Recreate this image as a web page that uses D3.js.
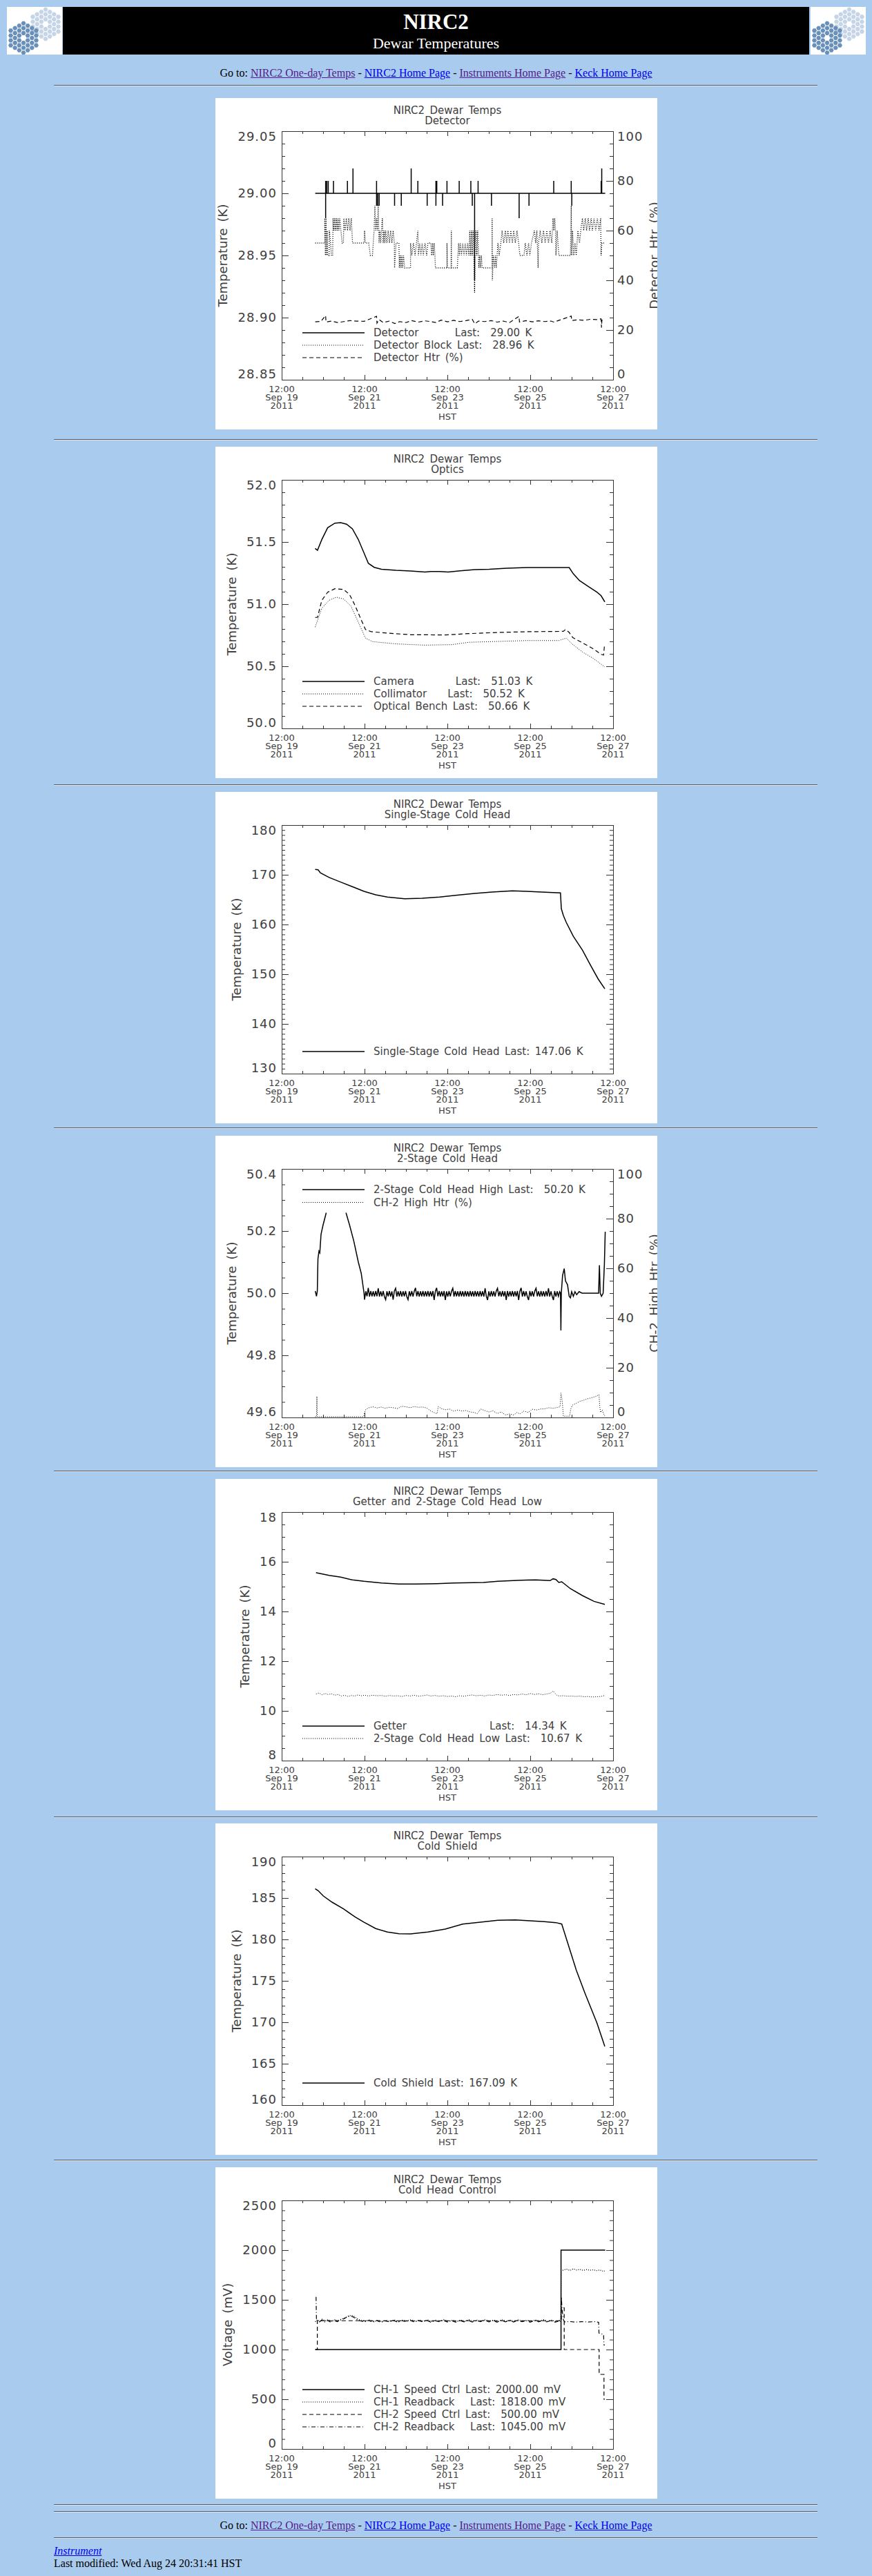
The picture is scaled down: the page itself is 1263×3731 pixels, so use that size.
<!DOCTYPE html>
<html>
<head>
<meta charset="utf-8">
<title>NIRC2 Dewar Temperatures</title>
<script src="https://cdn.jsdelivr.net/npm/d3@7"></script>
<style>
  body { margin: 0; background: #a9cbee; }
  #page { position: relative; width: 1263px; height: 3731px; font-family: "Liberation Serif", "Times New Roman", serif; }
  .abs { position: absolute; }
  .banner { left: 91px; top: 10px; width: 1081px; height: 69px; background: #000; color: #fff; }
  .banner div { position: absolute; left: 0; width: 100%; text-align: center; }
  .goto { left: 0; width: 1263px; text-align: center; font-size: 16px; line-height: 16px; }
  .foot { left: 78px; font-size: 16px; line-height: 16px; }
  a { color: #0000ee; }
  a.seen { color: #551a8b; }
  .rule { left: 78px; width: 1106px; height: 0; border-top: 1px solid #5c5c5c; border-bottom: 1px solid #dde7f3; }
  svg text { font-family: "DejaVu Sans", Verdana, sans-serif; fill: #404040; }
  .ttl text { font-size: 15px; }
  .ylab text { font-size: 18px; letter-spacing: 1px; }
  .ytitle { font-size: 18px; }
  .xlab text, .hst { font-size: 13px; }
  .legend text { font-size: 15px; }
</style>
</head>
<body>
<div id="page"></div>
<script>
// x values below are decimal days of September 2011 (HST), e.g. 20.5 = Sep 20 12:00
const xStart = 19.5;
const xEnd = 27.5;
const plotTitle = "NIRC2 Dewar Temps";

// ---- Detector ----
const detectorTicks = [28.85, 28.90, 28.95, 29.00, 29.05];
const htrTicks = [0, 20, 40, 60, 80, 100];
const detectorBase = 29.00;
const detectorSpan = [20.31, 27.31];
const detectorSpikes = [
  [20.561, 29.01], [20.561, 28.98], [20.589, 29.01], [20.624, 29.01], [20.75, 29.01], [21.087, 29.01],
  [21.221, 29.02], [21.79, 29.01], [21.79, 28.99], [21.818, 28.99], [21.853, 28.99], [22.225, 28.99],
  [22.387, 28.99], [22.626, 29.02], [22.787, 29.01], [23.012, 28.99], [23.223, 29.01], [23.223, 28.99],
  [23.244, 29.01], [23.384, 28.99], [23.49, 29.01], [23.785, 29.01], [24.066, 29.01], [24.101, 28.99],
  [24.157, 28.93], [24.241, 29.01], [24.564, 28.99], [25.232, 28.98], [25.47, 28.99], [26.067, 29.01],
  [26.489, 29.01], [26.503, 28.99], [27.212, 29.01], [27.226, 29.02]
];
const detectorBlock = [
  [20.31, 28.96], [20.54, 28.96], [20.54, 28.98], [20.555, 28.95], [20.57, 28.98], [20.585, 28.95], [20.60, 28.97],
  [20.61, 28.95], [20.645, 28.95], [20.65, 28.97], [20.68, 28.96], [20.70, 28.95], [20.73, 28.95], [20.74, 28.98],
  [20.76, 28.97], [20.78, 28.98], [20.80, 28.97], [20.82, 28.98], [20.84, 28.97], [20.86, 28.98], [20.88, 28.97],
  [20.90, 28.98], [20.93, 28.97], [20.96, 28.96], [20.99, 28.96], [21.00, 28.98], [21.03, 28.97], [21.06, 28.98],
  [21.09, 28.97], [21.12, 28.98], [21.15, 28.97], [21.18, 28.98], [21.21, 28.96], [21.49, 28.96], [21.50, 28.97],
  [21.52, 28.96], [21.60, 28.96], [21.64, 28.95], [21.69, 28.95], [21.73, 28.97], [21.75, 28.99], [21.77, 28.97],
  [21.79, 28.98], [21.81, 28.97], [21.83, 28.99], [21.85, 28.96], [21.87, 28.97], [21.89, 28.96], [21.91, 28.97],
  [21.93, 28.98], [21.95, 28.96], [21.97, 28.97], [21.99, 28.96], [22.01, 28.97], [22.04, 28.96], [22.07, 28.97],
  [22.10, 28.96], [22.13, 28.97], [22.16, 28.96], [22.19, 28.97], [22.22, 28.96], [22.225, 28.94], [22.26, 28.96],
  [22.33, 28.96], [22.34, 28.94], [22.36, 28.95], [22.38, 28.94], [22.40, 28.95], [22.42, 28.94], [22.44, 28.95],
  [22.47, 28.94], [22.61, 28.94], [22.61, 28.96], [22.64, 28.95], [22.68, 28.96], [22.72, 28.95], [22.787, 28.97],
  [22.80, 28.95], [22.83, 28.96], [22.86, 28.95], [22.89, 28.96], [22.92, 28.95], [22.96, 28.96], [23.00, 28.95],
  [23.03, 28.96], [23.10, 28.96], [23.12, 28.95], [23.14, 28.96], [23.16, 28.95], [23.18, 28.96], [23.20, 28.95],
  [23.21, 28.94], [23.49, 28.94], [23.49, 28.96], [23.50, 28.94], [23.59, 28.94], [23.595, 28.97], [23.60, 28.94],
  [23.74, 28.94], [23.77, 28.96], [23.79, 28.95], [23.81, 28.96], [23.84, 28.95], [23.87, 28.96], [23.90, 28.95],
  [23.93, 28.96], [23.96, 28.95], [23.99, 28.96], [24.02, 28.95], [24.04, 28.97], [24.06, 28.95], [24.08, 28.97],
  [24.10, 28.95], [24.12, 28.97], [24.14, 28.95], [24.157, 28.92], [24.17, 28.96], [24.19, 28.97], [24.21, 28.95],
  [24.23, 28.97], [24.26, 28.94], [24.28, 28.95], [24.30, 28.94], [24.32, 28.95], [24.34, 28.94], [24.37, 28.94],
  [24.58, 28.94], [24.58, 28.98], [24.585, 28.93], [24.61, 28.95], [24.64, 28.94], [24.66, 28.95], [24.68, 28.94],
  [24.72, 28.96], [24.75, 28.95], [24.79, 28.96], [24.82, 28.97], [24.86, 28.96], [24.90, 28.97], [24.93, 28.96],
  [24.96, 28.97], [25.00, 28.96], [25.03, 28.97], [25.07, 28.96], [25.10, 28.97], [25.14, 28.96], [25.18, 28.97],
  [25.22, 28.96], [25.25, 28.95], [25.35, 28.95], [25.38, 28.96], [25.42, 28.95], [25.46, 28.96], [25.49, 28.95],
  [25.53, 28.96], [25.60, 28.97], [25.63, 28.96], [25.66, 28.97], [25.69, 28.94], [25.70, 28.96], [25.74, 28.97],
  [25.78, 28.96], [25.82, 28.97], [25.86, 28.96], [25.90, 28.97], [25.94, 28.96], [25.98, 28.97], [26.02, 28.96],
  [26.05, 28.98], [26.07, 28.97], [26.09, 28.98], [26.11, 28.97], [26.12, 28.95], [26.15, 28.97], [26.19, 28.95],
  [26.23, 28.95], [26.47, 28.95], [26.49, 28.99], [26.50, 28.95], [26.52, 28.97], [26.55, 28.95], [26.58, 28.96],
  [26.61, 28.95], [26.65, 28.97], [26.69, 28.96], [26.72, 28.97], [26.76, 28.98], [26.79, 28.97], [26.83, 28.98],
  [26.86, 28.97], [26.90, 28.98], [26.93, 28.97], [26.97, 28.98], [27.00, 28.97], [27.04, 28.98], [27.08, 28.97],
  [27.12, 28.98], [27.16, 28.97], [27.20, 28.98], [27.21, 28.95], [27.23, 28.96], [27.31, 28.96]
];
const detectorHtr = [
  [20.31, 23.3], [20.45, 23.5], [20.56, 25.8], [20.57, 23.2], [20.70, 23.6], [20.85, 23.0], [21.00, 23.4],
  [21.15, 23.8], [21.30, 23.6], [21.49, 23.5], [21.79, 25.5], [21.80, 22.8], [21.85, 24.2], [21.95, 23.0],
  [22.10, 23.6], [22.23, 22.6], [22.35, 23.4], [22.50, 23.0], [22.63, 23.8], [22.80, 23.2], [22.95, 23.7],
  [23.10, 23.4], [23.22, 23.0], [23.35, 24.0], [23.50, 23.3], [23.65, 23.9], [23.80, 23.4], [23.95, 23.8],
  [24.10, 24.3], [24.16, 22.5], [24.25, 23.6], [24.40, 23.4], [24.56, 23.8], [24.70, 23.2], [24.85, 23.6],
  [25.00, 23.0], [25.23, 25.5], [25.24, 23.2], [25.40, 23.8], [25.55, 23.3], [25.70, 23.7], [25.85, 23.4],
  [26.00, 23.6], [26.07, 23.2], [26.49, 25.6], [26.50, 23.8], [26.65, 24.1], [26.80, 23.9], [26.95, 24.3],
  [27.10, 24.2], [27.21, 24.5], [27.22, 21.0], [27.23, 24.0], [27.31, 23.9]
];

// ---- Optics ----
const opticsTicks = [50.0, 50.5, 51.0, 51.5, 52.0];
const camera = [
  [20.308, 51.448], [20.364, 51.433], [20.469, 51.52], [20.61, 51.615], [20.785, 51.652], [20.926, 51.656],
  [21.066, 51.643], [21.207, 51.606], [21.347, 51.522], [21.488, 51.411], [21.593, 51.328], [21.734, 51.296],
  [21.909, 51.281], [22.26, 51.272], [22.61, 51.267], [22.96, 51.259], [23.10, 51.262], [23.31, 51.263],
  [23.52, 51.259], [23.81, 51.268], [24.16, 51.278], [24.51, 51.281], [24.93, 51.289], [25.42, 51.294],
  [26.12, 51.294], [26.44, 51.294], [26.54, 51.244], [26.69, 51.189], [26.90, 51.143], [27.11, 51.096],
  [27.21, 51.068], [27.30, 51.018]
];
const collimator = [
  [20.308, 50.815], [20.469, 50.967], [20.645, 51.031], [20.82, 51.056], [20.996, 51.041], [21.172, 50.985],
  [21.347, 50.856], [21.523, 50.726], [21.698, 50.698], [22.26, 50.68], [22.96, 50.67], [23.60, 50.674],
  [24.02, 50.693], [24.72, 50.70], [25.42, 50.707], [26.19, 50.707], [26.37, 50.726], [26.51, 50.68],
  [26.76, 50.615], [27.04, 50.559], [27.30, 50.494]
];
const opticalBench = [
  [20.308, 50.893], [20.364, 50.893], [20.469, 51.031], [20.61, 51.096], [20.785, 51.124], [20.996, 51.118],
  [21.137, 51.078], [21.277, 50.985], [21.418, 50.874], [21.523, 50.796], [21.663, 50.778], [22.05, 50.767],
  [22.61, 50.754], [23.45, 50.752], [24.02, 50.763], [24.72, 50.772], [25.42, 50.778], [26.30, 50.781],
  [26.35, 50.796], [26.44, 50.772], [26.53, 50.73], [26.76, 50.689], [27.04, 50.637], [27.21, 50.596],
  [27.27, 50.59], [27.29, 50.66]
];

// ---- Single-Stage Cold Head ----
const singleTicks = [130, 140, 150, 160, 170, 180];
const singleStage = [
  [20.308, 171.09], [20.378, 171.0], [20.434, 170.39], [20.645, 169.46], [20.926, 168.53], [21.207, 167.6],
  [21.488, 166.67], [21.769, 165.98], [22.05, 165.51], [22.47, 165.19], [22.89, 165.28], [23.31, 165.51],
  [23.74, 165.89], [24.16, 166.26], [24.58, 166.53], [25.07, 166.77], [25.42, 166.67], [25.77, 166.53],
  [26.23, 166.35], [26.25, 163.19], [26.30, 161.8], [26.37, 160.41], [26.54, 157.62], [26.76, 154.84],
  [26.97, 151.58], [27.14, 149.03], [27.30, 147.06]
];

// ---- 2-Stage Cold Head ----
const twoStageTicks = [49.6, 49.8, 50.0, 50.2, 50.4];
const twoStageHigh = [
  [20.31, 50.007], [20.34, 49.99], [20.36, 50.007], [20.375, 50.11], [20.40, 50.135], [20.42, 50.13],
  [20.45, 50.19], [20.50, 50.22], [20.575, 50.259], [20.80, null], [21.052, 50.259], [21.137, 50.22],
  [21.24, 50.168], [21.35, 50.10], [21.42, 50.064], [21.488, 50.0],
  [21.50, 49.979], [21.53, 50.006], [21.56, 49.990], [21.59, 50.017], [21.62, 49.989], [21.65, 50.007],
  [21.68, 49.990], [21.71, 50.006], [21.74, 49.989], [21.77, 50.007], [21.80, 49.990], [21.83, 50.016],
  [21.86, 49.989], [21.89, 50.006], [21.92, 49.990], [21.95, 50.007], [21.98, 49.989], [22.01, 49.979],
  [22.04, 50.006], [22.07, 49.990], [22.10, 50.007], [22.13, 49.989], [22.16, 50.006], [22.19, 49.979],
  [22.22, 50.007], [22.25, 50.016], [22.28, 49.989], [22.31, 50.006], [22.34, 49.990], [22.37, 50.007],
  [22.40, 49.989], [22.43, 50.006], [22.46, 49.990], [22.49, 50.007], [22.52, 49.989], [22.55, 49.979],
  [22.58, 50.006], [22.61, 49.990], [22.64, 50.007], [22.67, 49.989], [22.70, 50.006], [22.73, 50.017],
  [22.76, 49.990], [22.79, 50.007], [22.82, 49.989], [22.85, 50.006], [22.88, 49.990], [22.91, 50.007],
  [22.94, 49.989], [22.97, 50.006], [23.00, 49.990], [23.03, 50.007], [23.06, 49.989], [23.09, 50.006],
  [23.12, 49.990], [23.15, 50.007], [23.18, 49.978], [23.21, 50.006], [23.24, 50.017], [23.27, 49.990],
  [23.30, 50.007], [23.33, 49.989], [23.36, 50.006], [23.39, 49.990], [23.42, 50.007], [23.45, 49.978],
  [23.48, 50.006], [23.51, 49.989], [23.54, 50.007], [23.57, 49.990], [23.60, 50.006], [23.63, 50.016],
  [23.66, 49.989], [23.69, 50.007], [23.72, 49.990], [23.75, 50.006], [23.78, 49.989], [23.81, 50.007],
  [23.84, 49.990], [23.87, 50.006], [23.90, 49.989], [23.93, 50.007], [23.96, 49.990], [23.99, 50.006],
  [24.02, 49.989], [24.05, 50.007], [24.08, 49.990], [24.11, 50.006], [24.14, 49.989], [24.17, 50.007],
  [24.20, 49.990], [24.23, 50.006], [24.26, 49.989], [24.29, 50.007], [24.32, 49.990], [24.35, 50.006],
  [24.38, 49.989], [24.41, 50.016], [24.44, 49.990], [24.47, 49.978], [24.50, 50.006], [24.53, 49.989],
  [24.56, 50.007], [24.59, 49.990], [24.62, 50.006], [24.65, 49.989], [24.68, 50.007], [24.71, 50.016],
  [24.74, 49.990], [24.77, 50.006], [24.80, 49.989], [24.83, 50.007], [24.86, 49.990], [24.89, 50.006],
  [24.92, 49.978], [24.95, 50.007], [24.98, 49.989], [25.01, 50.006], [25.04, 49.990], [25.07, 50.007],
  [25.10, 49.989], [25.13, 50.006], [25.16, 49.990], [25.19, 50.007], [25.22, 49.978], [25.25, 50.006],
  [25.28, 50.017], [25.31, 49.989], [25.34, 50.007], [25.37, 49.990], [25.40, 50.006], [25.43, 49.989],
  [25.46, 49.978], [25.49, 50.007], [25.52, 49.990], [25.55, 50.006], [25.58, 49.989], [25.61, 50.007],
  [25.64, 50.016], [25.67, 49.990], [25.70, 50.006], [25.73, 49.989], [25.76, 50.007], [25.79, 49.990],
  [25.82, 50.006], [25.85, 49.989], [25.88, 50.007], [25.91, 49.990], [25.94, 50.016], [25.97, 49.989],
  [26.00, 50.006], [26.03, 49.990], [26.06, 49.978], [26.09, 50.007], [26.12, 49.989], [26.15, 50.006],
  [26.18, 49.990], [26.21, 50.005], [26.23, 50.0],
  [26.24, 49.88], [26.25, 50.0], [26.28, 50.057], [26.32, 50.079], [26.35, 50.04], [26.40, 50.027],
  [26.44, 49.99], [26.47, 49.985], [26.50, 50.005], [26.54, 49.99], [26.58, 50.005], [26.62, 49.995],
  [26.68, 50.005], [26.75, 50.0], [27.15, 50.0], [27.17, 50.09], [27.19, 50.0], [27.22, 49.99],
  [27.26, 50.0], [27.29, 50.094], [27.31, 50.198]
];
const twoStageHtr = [
  [20.31, 0.3], [20.34, 0.3], [20.35, 8.5], [20.36, 0.3], [21.48, 0.3], [21.50, 2.0], [21.53, 3.2], [21.60, 3.9],
  [21.70, 4.3], [21.80, 3.8], [21.90, 4.2], [22.00, 3.7], [22.10, 4.1], [22.20, 3.9], [22.30, 3.6], [22.40, 4.5],
  [22.50, 4.3], [22.60, 3.9], [22.70, 4.4], [22.80, 4.1], [22.90, 4.2], [23.00, 3.8], [23.10, 2.6], [23.20, 1.8],
  [23.25, 1.5], [23.28, 4.4], [23.35, 3.6], [23.45, 3.1], [23.55, 3.4], [23.65, 2.5], [23.75, 3.0], [23.85, 2.6],
  [23.95, 2.8], [24.05, 2.2], [24.15, 2.0], [24.22, 1.5], [24.30, 3.4], [24.40, 2.8], [24.50, 2.2], [24.60, 2.7],
  [24.70, 1.6], [24.80, 2.2], [24.90, 1.0], [25.00, 1.4], [25.10, 1.0], [25.18, 2.0], [25.25, 1.4], [25.35, 2.6],
  [25.45, 2.0], [25.55, 3.3], [25.65, 3.0], [25.75, 3.4], [25.85, 3.5], [25.95, 3.9], [26.05, 3.7], [26.15, 4.0],
  [26.22, 4.3], [26.24, 9.8], [26.26, 8.0], [26.28, 5.0], [26.30, 0.5], [26.45, 0.5], [26.48, 3.5], [26.52, 5.0],
  [26.60, 5.6], [26.70, 6.5], [26.80, 7.0], [26.90, 7.6], [27.00, 8.0], [27.10, 8.6], [27.16, 9.2], [27.18, 4.0],
  [27.20, 2.0], [27.24, 3.0], [27.27, 1.5], [27.30, 0.5]
];

// ---- Getter and 2-Stage Cold Head Low ----
const getterTicks = [8, 10, 12, 14, 16, 18];
const getter = [
  [20.329, 15.565], [20.364, 15.55], [20.645, 15.454], [20.926, 15.38], [21.207, 15.269], [21.488, 15.213],
  [21.909, 15.148], [22.33, 15.102], [22.75, 15.102], [23.24, 15.12], [23.66, 15.148], [24.37, 15.167],
  [24.72, 15.213], [25.28, 15.259], [25.63, 15.269], [25.98, 15.241], [26.05, 15.315], [26.12, 15.287],
  [26.19, 15.167], [26.26, 15.194], [26.47, 14.917], [26.76, 14.639], [27.04, 14.407], [27.30, 14.287]
];
const twoStageLow = [
  [20.33, 10.68], [20.40, 10.72], [20.47, 10.65], [20.55, 10.70], [20.62, 10.66], [20.70, 10.69], [20.78, 10.63],
  [20.86, 10.66], [20.94, 10.60], [21.02, 10.63], [21.10, 10.58], [21.18, 10.62], [21.26, 10.60], [21.34, 10.64],
  [21.42, 10.61], [21.50, 10.63], [21.60, 10.60], [21.70, 10.63], [21.80, 10.61], [21.90, 10.62], [22.00, 10.59],
  [22.10, 10.62], [22.20, 10.60], [22.30, 10.61], [22.40, 10.58], [22.50, 10.62], [22.60, 10.60], [22.70, 10.63],
  [22.80, 10.59], [22.90, 10.61], [23.00, 10.64], [23.10, 10.60], [23.20, 10.62], [23.30, 10.59], [23.40, 10.61],
  [23.50, 10.58], [23.60, 10.60], [23.70, 10.57], [23.80, 10.61], [23.90, 10.59], [24.00, 10.62], [24.10, 10.64],
  [24.20, 10.61], [24.30, 10.63], [24.40, 10.60], [24.50, 10.64], [24.60, 10.62], [24.70, 10.66], [24.80, 10.63],
  [24.90, 10.65], [25.00, 10.62], [25.10, 10.66], [25.20, 10.64], [25.30, 10.68], [25.40, 10.65], [25.50, 10.70],
  [25.60, 10.66], [25.70, 10.69], [25.80, 10.65], [25.90, 10.68], [26.00, 10.72], [26.05, 10.80], [26.10, 10.70],
  [26.15, 10.62], [26.20, 10.60], [26.30, 10.61], [26.40, 10.59], [26.50, 10.60], [26.60, 10.58], [26.70, 10.60],
  [26.80, 10.57], [26.90, 10.58], [27.00, 10.56], [27.10, 10.57], [27.20, 10.58], [27.30, 10.62]
];

// ---- Cold Shield ----
const shieldTicks = [160, 165, 170, 175, 180, 185, 190];
const coldShield = [
  [20.308, 186.11], [20.378, 185.89], [20.504, 185.25], [20.715, 184.5], [20.996, 183.67], [21.277, 182.69],
  [21.488, 182.08], [21.769, 181.31], [22.05, 180.89], [22.33, 180.69], [22.61, 180.67], [23.03, 180.89],
  [23.45, 181.25], [23.87, 181.86], [24.30, 182.08], [24.72, 182.31], [25.14, 182.36], [25.42, 182.28],
  [25.84, 182.14], [26.12, 182.03], [26.26, 181.86], [26.40, 179.64], [26.61, 176.31], [26.82, 173.53],
  [27.11, 169.92], [27.30, 167.09]
];

// ---- Cold Head Control ----
const voltTicks = [0, 500, 1000, 1500, 2000, 2500];
const ch1Speed = [[20.31, 1000], [26.243, 1000], [26.243, 2000], [27.31, 2000]];
const ch1Readback = [
  [20.31, 1280], [20.36, 1300], [20.42, 1285], [20.48, 1305], [20.55, 1288], [20.62, 1302], [20.70, 1284],
  [20.78, 1300], [20.86, 1290], [20.94, 1305], [21.02, 1318], [21.10, 1335], [21.18, 1345], [21.26, 1330],
  [21.34, 1305], [21.42, 1295], [21.52, 1285], [21.62, 1298], [21.72, 1282], [21.82, 1296], [21.92, 1280],
  [22.02, 1294], [22.12, 1284], [22.22, 1298], [22.32, 1280], [22.42, 1296], [22.52, 1286], [22.62, 1300],
  [22.72, 1283], [22.82, 1297], [22.92, 1285], [23.02, 1299], [23.12, 1282], [23.22, 1295], [23.32, 1286],
  [23.42, 1300], [23.52, 1284], [23.62, 1296], [23.72, 1281], [23.82, 1298], [23.92, 1285], [24.02, 1300],
  [24.12, 1283], [24.22, 1296], [24.32, 1286], [24.42, 1301], [24.52, 1284], [24.62, 1297], [24.72, 1282],
  [24.82, 1299], [24.92, 1285], [25.02, 1296], [25.12, 1283], [25.22, 1300], [25.32, 1286], [25.42, 1295],
  [25.52, 1282], [25.62, 1298], [25.72, 1285], [25.82, 1300], [25.92, 1284], [26.02, 1296], [26.12, 1282],
  [26.20, 1293], [26.24, 1285], [26.245, 1790], [26.30, 1800], [26.38, 1808], [26.46, 1795], [26.54, 1812],
  [26.62, 1800], [26.70, 1806], [26.78, 1796], [26.86, 1804], [26.94, 1798], [27.02, 1802], [27.10, 1794],
  [27.18, 1800], [27.26, 1788], [27.30, 1790]
];
const ch2Speed = [
  [20.31, 1000], [20.36, 1000], [20.36, 1290], [26.25, 1290], [26.25, 1420], [26.32, 1420], [26.32, 1000],
  [27.163, 1000], [27.163, 750], [27.28, 750], [27.28, 500], [27.30, 500]
];
const ch2Readback = [
  [20.33, 1530], [20.34, 1290], [20.40, 1275], [20.47, 1295], [20.54, 1278], [20.61, 1292], [20.68, 1276],
  [20.76, 1294], [20.84, 1280], [20.92, 1296], [21.00, 1310], [21.08, 1328], [21.16, 1338], [21.24, 1325],
  [21.32, 1300], [21.40, 1288], [21.50, 1278], [21.60, 1292], [21.70, 1276], [21.80, 1290], [21.90, 1274],
  [22.00, 1288], [22.10, 1278], [22.20, 1292], [22.30, 1275], [22.40, 1290], [22.50, 1280], [22.60, 1294],
  [22.70, 1276], [22.80, 1291], [22.90, 1279], [23.00, 1293], [23.10, 1275], [23.20, 1289], [23.30, 1280],
  [23.40, 1294], [23.50, 1277], [23.60, 1290], [23.70, 1275], [23.80, 1292], [23.90, 1279], [24.00, 1294],
  [24.10, 1277], [24.20, 1290], [24.30, 1280], [24.40, 1295], [24.50, 1278], [24.60, 1291], [24.70, 1276],
  [24.80, 1293], [24.90, 1279], [25.00, 1290], [25.10, 1277], [25.20, 1294], [25.30, 1280], [25.40, 1289],
  [25.50, 1276], [25.60, 1292], [25.70, 1279], [25.80, 1294], [25.90, 1278], [26.00, 1290], [26.10, 1276],
  [26.20, 1287], [26.24, 1280], [26.25, 1530], [26.27, 1400], [26.30, 1300], [26.33, 1278], [26.45, 1282],
  [26.60, 1276], [26.75, 1280], [26.90, 1277], [27.05, 1281], [27.15, 1275], [27.16, 1165], [27.24, 1155],
  [27.27, 1150], [27.28, 1045], [27.30, 1045]
];

// detector trace: flat at the base value with the spikes
const detector = [[detectorSpan[0], detectorBase]];
detectorSpikes.forEach(([d, v]) => detector.push([d, detectorBase], [d, v], [d, detectorBase]));
detector.push([detectorSpan[1], detectorBase]);

const charts = [
  { sub: "Detector", yDomain: [28.85, 29.05], yTicks: detectorTicks, yMinor: 0.01, yFmt: ".2f", yTitle: "Temperature (K)",
    right: { domain: [0, 100], ticks: htrTicks, minor: 5, title: "Detector Htr (%)" },
    series: [{ data: detector, style: "solid" }, { data: detectorBlock, style: "dot", width: 1.3 }, { data: detectorHtr, style: "dash", axis: "right" }],
    legend: [{ text: "Detector       Last:  29.00 K", style: "solid" }, { text: "Detector Block Last:  28.96 K", style: "dot" }, { text: "Detector Htr (%)", style: "dash" }] },
  { sub: "Optics", yDomain: [50, 52], yTicks: opticsTicks, yMinor: 0.1, yFmt: ".1f", yTitle: "Temperature (K)",
    series: [{ data: camera, style: "solid" }, { data: collimator, style: "dot" }, { data: opticalBench, style: "dash" }],
    legend: [{ text: "Camera        Last:  51.03 K", style: "solid" }, { text: "Collimator    Last:  50.52 K", style: "dot" }, { text: "Optical Bench Last:  50.66 K", style: "dash" }] },
  { sub: "Single-Stage Cold Head", yDomain: [130, 180], yTicks: singleTicks, yMinor: 1, yFmt: "d", yTitle: "Temperature (K)",
    series: [{ data: singleStage, style: "solid" }],
    legend: [{ text: "Single-Stage Cold Head Last: 147.06 K", style: "solid" }] },
  { sub: "2-Stage Cold Head", yDomain: [49.6, 50.4], yTicks: twoStageTicks, yMinor: 0.05, yFmt: ".1f", yTitle: "Temperature (K)",
    right: { domain: [0, 100], ticks: htrTicks, minor: 5, title: "CH-2 High Htr (%)" },
    series: [{ data: twoStageHigh, style: "solid" }, { data: twoStageHtr, style: "dot", axis: "right" }],
    legendTop: true,
    legend: [{ text: "2-Stage Cold Head High Last:  50.20 K", style: "solid" }, { text: "CH-2 High Htr (%)", style: "dot" }] },
  { sub: "Getter and 2-Stage Cold Head Low", yDomain: [8, 18], yTicks: getterTicks, yMinor: 0.5, yFmt: "d", yTitle: "Temperature (K)",
    series: [{ data: getter, style: "solid" }, { data: twoStageLow, style: "dot" }],
    legend: [{ text: "Getter                Last:  14.34 K", style: "solid" }, { text: "2-Stage Cold Head Low Last:  10.67 K", style: "dot" }] },
  { sub: "Cold Shield", yDomain: [160, 190], yTicks: shieldTicks, yMinor: 1, yFmt: "d", yTitle: "Temperature (K)",
    series: [{ data: coldShield, style: "solid" }],
    legend: [{ text: "Cold Shield Last: 167.09 K", style: "solid" }] },
  { sub: "Cold Head Control", yDomain: [0, 2500], yTicks: voltTicks, yMinor: 100, yFmt: "d", yTitle: "Voltage (mV)",
    series: [{ data: ch1Speed, style: "solid" }, { data: ch1Readback, style: "dot", width: 1.3 }, { data: ch2Speed, style: "dash" }, { data: ch2Readback, style: "dashdot" }],
    legend: [{ text: "CH-1 Speed Ctrl Last: 2000.00 mV", style: "solid" }, { text: "CH-1 Readback   Last: 1818.00 mV", style: "dot" },
             { text: "CH-2 Speed Ctrl Last:  500.00 mV", style: "dash" }, { text: "CH-2 Readback   Last: 1045.00 mV", style: "dashdot" }] }
];

// page layout (pixels)
const panelTops = [142, 647, 1147, 1645, 2142, 2641, 3139];
const ruleTops = [123, 636, 1136, 1633, 2130, 2631, 3128, 3627, 3637, 3675];
const dashes = { solid: null, dot: "1,2", dash: "6,4", dashdot: "6,3,1,3" };
const widths = { solid: 1.5, dot: 1, dash: 1.2, dashdot: 1.2 };

const toDate = d => new Date(Date.UTC(2011, 8, 1) + (d - 1) * 864e5);
// IDL vector font has wide blanks
const idl = s => s.replace(/ /g, "\u2002");
const minorTicks = (dom, step) => d3.range(Math.round(dom[0] / step), Math.round(dom[1] / step) + 1).map(i => +(i * step).toFixed(4));

const page = d3.select("#page");

// ---- header ----
function hexLogo(left) {
  const svg = page.append("svg").attr("class", "abs").style("left", left + "px").style("top", "10px")
    .attr("width", 80).attr("height", 69);
  svg.append("rect").attr("width", 80).attr("height", 69).attr("fill", "#fff");
  const s = 4.1;
  const cells = [];
  for (let q = -3; q <= 3; q++) for (let r = -3; r <= 3; r++) {
    const k = Math.max(Math.abs(q), Math.abs(r), Math.abs(q + r));
    if (k >= 1 && k <= 3) cells.push([q, r]);
  }
  const hex = d3.range(6).map(i => [3.5 * Math.cos(i * Math.PI / 3), 3.5 * Math.sin(i * Math.PI / 3)]);
  [[56, 25, "#c5d5e7"], [24, 45, "#6890ba"]].forEach(([cx, cy, col]) => {
    svg.append("g").selectAll("path").data(cells).join("path")
      .attr("transform", ([q, r]) => `translate(${cx + 1.5 * s * q},${cy + Math.sqrt(3) * s * (r + q / 2)})`)
      .attr("d", "M" + hex.join("L") + "Z")
      .attr("fill", col);
  });
}
hexLogo(10);
hexLogo(1174);
const banner = page.append("div").attr("class", "abs banner");
banner.append("div").style("top", "6px").style("font-size", "31px").style("line-height", "31px").style("font-weight", "bold").text("NIRC2");
banner.append("div").style("top", "42px").style("font-size", "22px").style("line-height", "22px").text("Dewar Temperatures");

function gotoLine(top) {
  page.append("div").attr("class", "abs goto").style("top", top + "px").html(
    'Go to: <a class="seen" href="#">NIRC2 One-day Temps</a> - <a href="#">NIRC2 Home Page</a> - ' +
    '<a class="seen" href="#">Instruments Home Page</a> - <a href="#">Keck Home Page</a>');
}
gotoLine(98);
gotoLine(3650);
ruleTops.forEach(t => page.append("div").attr("class", "abs rule").style("top", t + "px"));
page.append("div").attr("class", "abs foot").style("top", "3687px").html('<a href="#"><i>Instrument</i></a>');
page.append("div").attr("class", "abs foot").style("top", "3705px").text("Last modified: Wed Aug 24 20:31:41 HST");

// ---- charts ----
function drawChart(c, top, idx) {
  const W = 640, H = 480, L = 96, R = 576, T = 48, B = 408;
  const svg = page.append("svg").attr("class", "abs").style("left", "312px").style("top", top + "px")
    .attr("width", W).attr("height", H);
  svg.append("rect").attr("width", W).attr("height", H).attr("fill", "#fff");

  const x = d3.scaleUtc().domain([toDate(xStart), toDate(xEnd)]).range([L, R]);
  const y = d3.scaleLinear().domain(c.yDomain).range([B, T]);
  const y2 = c.right ? d3.scaleLinear().domain(c.right.domain).range([B, T]) : y;

  const tt = svg.append("g").attr("class", "ttl").attr("text-anchor", "middle");
  tt.append("text").attr("x", (L + R) / 2).attr("y", 18).attr("dy", "0.36em").text(idl(plotTitle));
  tt.append("text").attr("x", (L + R) / 2).attr("y", 32.5).attr("dy", "0.36em").text(idl(c.sub));

  const ax = svg.append("g").style("color", "#333");
  const minorX = d3.utcHour.every(12).range(toDate(xStart), toDate(xEnd + 0.1));
  const majorX = minorX.filter((d, i) => i % 4 === 0);

  // x axes, bottom and top, ticks pointing inward
  ax.append("g").attr("transform", `translate(0,${B})`)
    .call(d3.axisBottom(x).tickValues(minorX).tickSizeInner(-4).tickSizeOuter(0).tickFormat(""));
  ax.append("g").attr("transform", `translate(0,${B})`)
    .call(d3.axisBottom(x).tickValues(majorX).tickSizeInner(-7).tickSizeOuter(0).tickFormat(""));
  ax.append("g").attr("transform", `translate(0,${T})`)
    .call(d3.axisTop(x).tickValues(minorX).tickSizeInner(-4).tickSizeOuter(0).tickFormat(""));
  ax.append("g").attr("transform", `translate(0,${T})`)
    .call(d3.axisTop(x).tickValues(majorX).tickSizeInner(-7).tickSizeOuter(0).tickFormat(""));

  const fmts = [d3.utcFormat("%H:%M"), d3.utcFormat("%b %d"), d3.utcFormat("%Y")];
  const xl = svg.append("g").attr("class", "xlab").attr("text-anchor", "middle");
  fmts.forEach((f, i) => {
    xl.selectAll(null).data(majorX).join("text")
      .attr("x", d => x(d)).attr("y", B + 13 + i * 12).attr("dy", "0.36em").text(d => idl(f(d)));
  });
  svg.append("text").attr("class", "hst").attr("text-anchor", "middle")
    .attr("x", (L + R) / 2).attr("y", B + 53).attr("dy", "0.36em").text("HST");

  // y axes
  function yAxis(axisFn, scale, pos, ticks, minor, fmt, labelled) {
    ax.append("g").attr("transform", `translate(${pos},0)`)
      .call(axisFn(scale).tickValues(minorTicks(scale.domain(), minor)).tickSizeInner(-5).tickSizeOuter(0).tickFormat(""));
    const g = ax.append("g").attr("class", "ylab").attr("transform", `translate(${pos},0)`)
      .call(axisFn(scale).tickValues(ticks).tickSizeInner(-10).tickSizeOuter(0)
        .tickPadding(axisFn === d3.axisLeft ? 7 : 6).tickFormat(labelled ? d3.format(fmt) : ""));
    const dom = scale.domain();
    g.selectAll(".tick text").filter(d => d === dom[1]).attr("y", 8);
    g.selectAll(".tick text").filter(d => d === dom[0]).attr("y", -8);
    let w = 0;
    if (labelled) g.selectAll(".tick text").each(function () { w = Math.max(w, this.getComputedTextLength()); });
    return w;
  }
  const lw = yAxis(d3.axisLeft, y, L, c.yTicks, c.yMinor, c.yFmt, true);
  svg.append("text").attr("class", "ytitle").attr("text-anchor", "middle")
    .attr("transform", `translate(${L - 7 - lw - 15},${(T + B) / 2}) rotate(-90)`).text(idl(c.yTitle));
  if (c.right) {
    const rw = yAxis(d3.axisRight, y2, R, c.right.ticks, c.right.minor, "d", true);
    svg.append("text").attr("class", "ytitle").attr("text-anchor", "middle")
      .attr("transform", `translate(${R + 6 + rw + 23},${(T + B) / 2}) rotate(-90)`).text(idl(c.right.title));
  } else {
    yAxis(d3.axisRight, y, R, c.yTicks, c.yMinor, c.yFmt, false);
  }

  // data
  svg.append("clipPath").attr("id", "clip" + idx).append("rect")
    .attr("x", L).attr("y", T).attr("width", R - L).attr("height", B - T);
  const plot = svg.append("g").attr("clip-path", `url(#clip${idx})`);
  c.series.forEach(s => {
    const ys = s.axis === "right" ? y2 : y;
    const line = d3.line().defined(p => p[1] !== null).x(p => x(toDate(p[0]))).y(p => ys(p[1]));
    plot.append("path").datum(s.data)
      .attr("fill", "none").attr("stroke", "#000")
      .attr("stroke-width", s.width || widths[s.style]).attr("stroke-dasharray", dashes[s.style])
      .attr("d", line);
  });

  // legend
  const lg = svg.append("g").attr("class", "legend");
  const n = c.legend.length;
  c.legend.forEach((row, i) => {
    const cy = c.legendTop ? 78 + i * 18.5 : 376 - (n - 1 - i) * 18;
    lg.append("line").attr("x1", 126).attr("x2", 216).attr("y1", cy).attr("y2", cy)
      .attr("stroke", "#000").attr("stroke-width", widths[row.style]).attr("stroke-dasharray", dashes[row.style]);
    lg.append("text").attr("x", 229).attr("y", cy).attr("dy", "0.36em").text(idl(row.text));
  });
}

charts.forEach((c, i) => drawChart(c, panelTops[i], i));
</script>
</body>
</html>
